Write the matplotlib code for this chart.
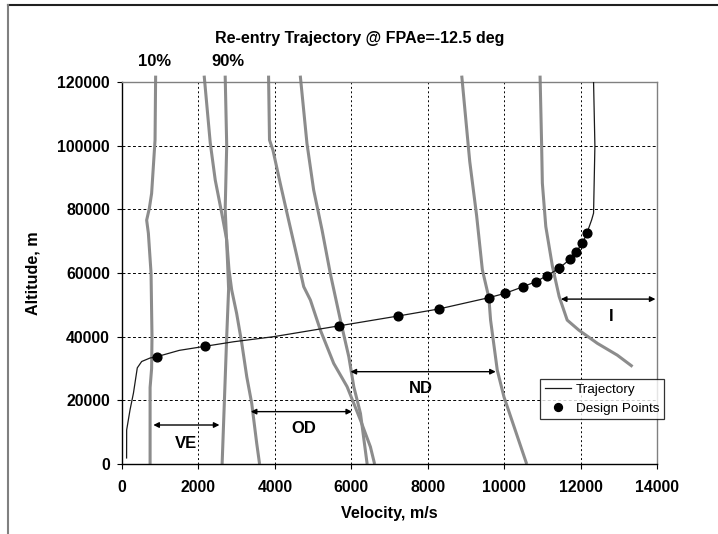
import matplotlib
matplotlib.use("Agg")
import matplotlib.pyplot as plt
from matplotlib.lines import Line2D

plt.rcParams['font.family'] = ['Liberation Sans', 'DejaVu Sans']

# Re-entry trajectory, velocity (m/s) vs altitude (m)
traj_v = [120, 122, 210, 300, 400, 515, 735, 909, 1500, 2185, 2920, 3970,
          5680, 7230, 8290, 9600, 10020, 10500, 10830, 11115, 11440, 11720,
          11880, 12050, 12165, 12290, 12340, 12375, 12340]
traj_h = [1900, 10700, 17000, 22300, 30200, 32200, 33300, 33700, 35700, 37000,
          38400, 40000, 43400, 46500, 48700, 52250, 53600, 55700, 57300, 59100,
          61500, 64300, 66700, 69300, 72500, 76700, 78800, 100000, 120000]

design_v = [909, 2185, 5680, 7230, 8290, 9600, 10020, 10500, 10830, 11115,
            11440, 11720, 11880, 12050, 12165]
design_h = [33700, 37000, 43400, 46500, 48700, 52250, 53600, 55700, 57300,
            59100, 61500, 64300, 66700, 69300, 72500]

# regime boundary curves (10% / 90% lines)
ve_10_v = [880, 865, 775, 715, 645, 690, 760, 785, 775, 735, 735]
ve_10_h = [122000, 101800, 85000, 80300, 76600, 72500, 60000, 40000, 30000, 24000, 0]

ve_90_v = [2700, 2740, 2700, 2760, 2790, 2740, 2680, 2620]
ve_90_h = [122000, 100000, 80000, 64000, 55000, 40000, 20000, 0]

od_10_v = [2150, 2310, 2440, 2610, 2740, 2800, 2870, 3000, 3135, 3265, 3395, 3525, 3600]
od_10_h = [122000, 100800, 89200, 78800, 70400, 61000, 54700, 47300, 37900, 27400,
           19000, 6500, 0]

od_90_v = [3835, 3860, 3950, 4140, 4360, 4580, 4755, 4930, 5190, 5540, 5890, 6240, 6500, 6610]
od_90_h = [122000, 101800, 98600, 88200, 76600, 65100, 55700, 51500, 42100, 31600,
           24300, 13800, 5400, 0]

nd_10_v = [4665, 4840, 5015, 5235, 5450, 5715, 5935, 6065, 6240, 6415]
nd_10_h = [122000, 100700, 86100, 73500, 59900, 45200, 33700, 24300, 15900, 0]

nd_90_v = [8890, 9100, 9280, 9430, 9600, 9645, 9820, 9995, 10260, 10590]
nd_90_h = [122000, 95000, 78000, 61000, 52250, 45200, 29500, 21100, 11700, 0]

i_v = [10940, 10980, 11000, 11090, 11265, 11440, 11650, 11950, 12440, 12960, 13360]
i_h = [122000, 100700, 88200, 74600, 62000, 52600, 45200, 42100, 37900, 34200, 30600]

boundaries = [(ve_10_v, ve_10_h), (ve_90_v, ve_90_h), (od_10_v, od_10_h),
              (od_90_v, od_90_h), (nd_10_v, nd_10_h), (nd_90_v, nd_90_h), (i_v, i_h)]

# regime spans: label, start, end, altitude, label position
regimes = [
    ("VE", 820, 2550, 12250, 1680, 6500),
    ("OD", 3370, 6020, 16450, 4755, 11200),
    ("ND", 5980, 9780, 29000, 7815, 23800),
    ("I", 11485, 13960, 51800, 12810, 46300),
]

x_ticks = [0, 2000, 4000, 6000, 8000, 10000, 12000, 14000]
y_ticks = [0, 20000, 40000, 60000, 80000, 100000, 120000]

fig = plt.figure(figsize=(7.18, 5.34), dpi=100)
ax = fig.add_axes([122 / 718, 1 - 464 / 534, 535 / 718, 382 / 534])

for bv, bh in boundaries:
    ax.plot(bv, bh, color="#8c8c8c", lw=2.2, zorder=2, clip_on=False,
            solid_capstyle="butt")

ax.plot(traj_v, traj_h, color="#1a1a1a", lw=0.9, zorder=3, label="Trajectory")
ax.plot(design_v, design_h, "o", color="black", ms=6.3, zorder=4,
        label="Design Points")

for name, v0, v1, h, tv, th in regimes:
    ax.annotate("", xy=(v0, h), xytext=(v1, h),
                arrowprops=dict(arrowstyle="<|-|>", color="black", lw=1.0,
                                mutation_scale=8, shrinkA=0, shrinkB=0),
                zorder=5)
    ax.text(tv, th, name, ha="center", va="center", fontsize=12,
            fontweight="bold")

ax.text(865, 126300, "10%", ha="center", va="center", fontsize=12,
        fontweight="bold", clip_on=False)
ax.text(2780, 126300, "90%", ha="center", va="center", fontsize=12,
        fontweight="bold", clip_on=False)

ax.set_xlim(0, 14000)
ax.set_ylim(0, 120000)
ax.set_xticks(x_ticks)
ax.set_xticklabels([str(t) for t in x_ticks], fontweight="bold")
ax.set_yticks(y_ticks)
ax.set_yticklabels([str(t) for t in y_ticks], fontweight="bold")
ax.tick_params(direction="out", length=3.6, width=0.8, labelsize=11.4,
               colors="black")
ax.tick_params(axis="x", pad=8)
ax.tick_params(axis="y", pad=5)

ax.set_axisbelow(True)
ax.xaxis.grid(True, color="black", linestyle=(0, (2.0, 2.6)), lw=0.7)
ax.yaxis.grid(True, color="black", linestyle=(0, (3.0, 2.4)), lw=0.7)
for side in ("top", "right"):
    ax.spines[side].set_color("#808080")
    ax.spines[side].set_linewidth(1.0)
for side in ("left", "bottom"):
    ax.spines[side].set_color("black")
    ax.spines[side].set_linewidth(1.0)

ax.set_xlabel("Velocity, m/s", fontsize=11.6, fontweight="bold", labelpad=8)
ax.set_ylabel("Altitude, m", fontsize=11.6, fontweight="bold", labelpad=12)

fig.text(360 / 718, 1 - 39 / 534, "Re-entry Trajectory @ FPAe=-12.5 deg",
         ha="center", va="center", fontsize=11.5, fontweight="bold")

leg = ax.legend(loc="upper left", bbox_to_anchor=(0.781, 0.2225),
                fontsize=9.7, frameon=True, fancybox=False, borderaxespad=0,
                handlelength=2.0, handletextpad=0.3, labelspacing=0.45,
                borderpad=0.35, markerscale=0.9)
leg.get_frame().set_edgecolor("black")
leg.get_frame().set_linewidth(0.9)

# chart area border (top and left edges)
fig.add_artist(Line2D([8 / 718, 1], [1 - 5 / 534, 1 - 5 / 534],
                      transform=fig.transFigure, color="#202020", lw=1.5))
fig.add_artist(Line2D([8 / 718, 8 / 718], [0, 1 - 5 / 534],
                      transform=fig.transFigure, color="#808080", lw=1.5))

fig.savefig("out.png", dpi=100)
